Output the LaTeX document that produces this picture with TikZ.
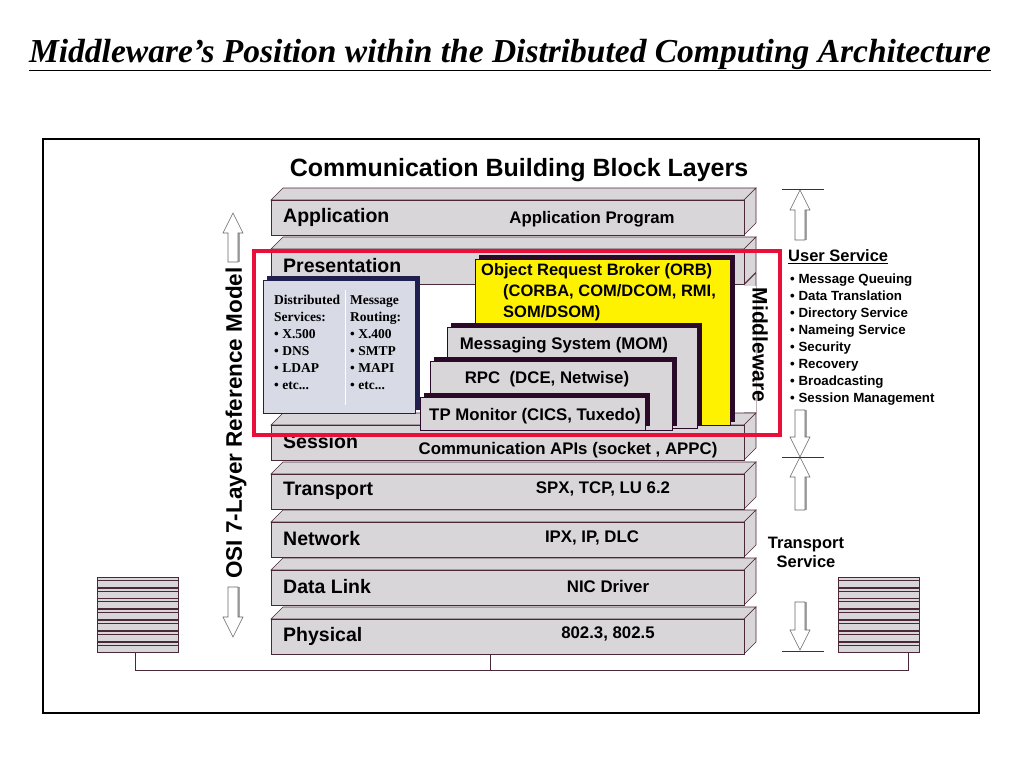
\documentclass[tikz,border=0pt]{standalone}
\usepackage{fontspec}
\setmainfont{Liberation Serif}
\setsansfont{Liberation Sans}
\begin{document}
\begin{tikzpicture}[x=1pt,y=-1pt,
  lay/.style={fill=laygray,draw=laydark,line width=0.6pt},
  lbl/.style={font=\sffamily\bfseries\fontsize{19.5}{19.5}\selectfont,anchor=west,inner sep=0},
  mid/.style={font=\sffamily\bfseries\fontsize{16.8}{16.8}\selectfont,inner sep=0},
  lst/.style={font=\sffamily\bfseries\fontsize{13.3}{17}\selectfont,anchor=north west,inner sep=0,align=left},
  shad/.style={fill=shadc,draw=shadc},
  harrow/.style={draw=black!60,fill=white,line width=0.6pt}]
\definecolor{laygray}{HTML}{D9D6D9}
\definecolor{laydark}{HTML}{4A2838}
\definecolor{shadc}{HTML}{2A0A28}
\definecolor{redc}{HTML}{E8103A}
\definecolor{bluec}{HTML}{D8DAE6}
\definecolor{navy}{HTML}{202050}
\useasboundingbox (0,0) rectangle (1024,768);
\node[font=\bfseries\itshape\fontsize{33.5}{33.5}\selectfont] (title) at (510,55) {\underline{Middleware’s Position within the Distributed Computing Architecture}};
\draw[line width=2pt] (43,139) rectangle (979,713);
\node[font=\sffamily\bfseries\fontsize{25}{25}\selectfont] (cbb) at (519,170) {Communication Building Block Layers};
% layers
\newcommand{\mylayer}[4]{%
  \draw[lay] (271,#1)--(283,#1-12)--(756,#1-12)--(744,#1)--cycle;
  \draw[lay] (744,#1)--(756,#1-12)--(756,#1+23)--(744,#1+35)--cycle;
  \draw[lay] (271,#1) rectangle (744,#1+35);
  \node[lbl] (L#2) at (283,#1+17) {#3};
}
\mylayer{200}{app}{Application}{}
\node[mid] (mapp) at (592,219) {Application Program};
\mylayer{249}{pre}{Presentation}{}
\mylayer{619}{phy}{Physical}{}
\node[mid] (mphy) at (608,634) {802.3, 802.5};
\mylayer{570}{dl}{Data Link}{}
\node[mid] (mdl) at (608,586) {NIC Driver};
\mylayer{522}{net}{Network}{}
\node[mid] (mnet) at (592,538) {IPX, IP, DLC};
\mylayer{474}{tra}{Transport}{}
\node[mid] (mtra) at (603,489) {SPX, TCP, LU 6.2};
\mylayer{425}{ses}{Session}{}
\node[mid] (mses) at (568,450) {Communication APIs (socket , APPC)};
\fill[white] (271,285) rectangle (744,412);
\draw[lay] (744,285)--(756,273)--(756,412)--(744,412);
\fill[white] (744,286) rectangle (756,412);
% yellow ORB
\draw[shad] (479,255) rectangle (734,421);
\draw[fill=yellow,draw=shadc] (475,259) rectangle (730,425);
\node[font=\sffamily\bfseries\fontsize{16.5}{21}\selectfont,anchor=north west,align=left,inner sep=0] (orb) at (481,263) {Object Request Broker (ORB)\\\hspace*{22pt}(CORBA, COM/DCOM, RMI,\\\hspace*{22pt}SOM/DSOM)};
% MOM
\draw[shad] (451,323) rectangle (701,425);
\draw[fill=laygray,draw=shadc] (447,327) rectangle (697,428);
\node[mid] (mom) at (564,345) {Messaging System (MOM)};
\draw[shad] (434,357) rectangle (676,425);
\draw[fill=laygray,draw=shadc] (430,361) rectangle (672,430);
\node[mid] (rpc) at (547,379) {RPC\ \ (DCE, Netwise)};
\draw[shad] (424,393) rectangle (649,425);
\draw[fill=laygray,draw=shadc] (420,397) rectangle (645,430);
\node[mid] (tp) at (535,416) {TP Monitor (CICS, Tuxedo)};
% distributed box
\draw[fill=navy,draw=navy] (267,276) rectangle (419,409);
\draw[fill=bluec,draw=navy] (263,280) rectangle (415,413);
\draw[white,line width=1pt] (345,290) -- (345,405);
\node[font=\bfseries\fontsize{13.5}{17}\selectfont,anchor=north west,align=left,inner sep=0] (ds) at (274,295) {Distributed\\Services:\\• X.500\\• DNS\\• LDAP\\• etc...};
\node[font=\bfseries\fontsize{13.5}{17}\selectfont,anchor=north west,align=left,inner sep=0] (mr) at (350,295) {Message\\Routing:\\• X.400\\• SMTP\\• MAPI\\• etc...};
% red rectangle
\draw[redc,line width=4pt] (254,251) rectangle (780,435);
\node[font=\sffamily\bfseries\fontsize{21}{21}\selectfont,rotate=-90] (mw) at (760,345) {Middleware};
\node[font=\sffamily\bfseries\fontsize{22.5}{22.5}\selectfont,rotate=90] (osi) at (236,423) {OSI 7-Layer Reference Model};
% hollow arrows
\newcommand{\uparr}[3]{%
  \draw[black!35,line width=1.2pt] (#1+6,#2+20)--(#1+6,#3);
  \draw[harrow] (#1,#2)--(#1+10,#2+20)--(#1+5,#2+20)--(#1+5,#3)--(#1-5,#3)--(#1-5,#2+20)--(#1-10,#2+20)--cycle;}
\newcommand{\dnarr}[3]{%
  \draw[black!35,line width=1.2pt] (#1+6,#2-20)--(#1+6,#3);
  \draw[harrow] (#1,#2)--(#1+10,#2-20)--(#1+5,#2-20)--(#1+5,#3)--(#1-5,#3)--(#1-5,#2-20)--(#1-10,#2-20)--cycle;}
\uparr{233}{213}{262}
\dnarr{233}{637}{587}
\uparr{800}{190}{240}
\dnarr{800}{457}{410}
\uparr{800}{457}{510}
\dnarr{800}{650}{602}
\draw[laydark] (782,189)--(824,189) (782,457)--(824,457) (782,651)--(824,651);
\node[font=\sffamily\bfseries\fontsize{16.5}{16.5}\selectfont,anchor=west,inner sep=0] (us) at (788,257) {\underline{User Service}};
\node[lst] (list) at (790,274) {• Message Queuing\\• Data Translation\\• Directory Service\\• Nameing Service\\• Security\\• Recovery\\• Broadcasting\\• Session Management};
\node[font=\sffamily\bfseries\fontsize{16.5}{19}\selectfont,align=center,inner sep=0] (ts) at (806,552) {Transport\\Service};
% computers
\newcommand{\stack}[2]{%
  \foreach \i in {0,...,6} {\draw[lay] (#1,577+\i*10.8) rectangle (#1+81,587+\i*10.8);
  \draw[laydark,line width=0.4pt] (#1,580+\i*10.8)--(#1+81,580+\i*10.8);}
  \node[inner sep=0] (#2) at (#1+40,653) {};}
\stack{97}{cl}
\stack{838}{cr}
\coordinate (mb) at (490,655);
\draw[laydark] (135,653)|-(908,670)--(908,653);
\draw[laydark] (mb)--(490,670);
\end{tikzpicture}
\end{document}
